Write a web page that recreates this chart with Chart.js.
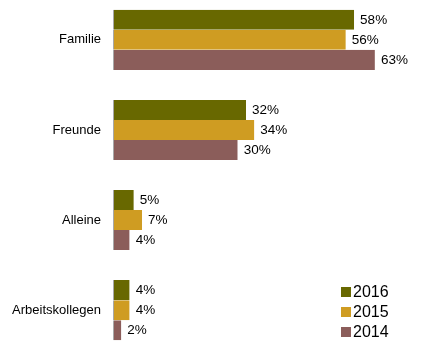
<!DOCTYPE html>
<html><head><meta charset="utf-8">
<script src="https://cdn.jsdelivr.net/npm/chart.js@4"></script>
<style>
html,body{margin:0;padding:0;background:#fff;overflow:hidden;}
#c{position:absolute;left:0;top:-25px;}
</style></head>
<body><canvas id="c" width="428" height="400"></canvas>
<script>
const categories = ["Familie", "Freunde", "Alleine", "Arbeitskollegen"];
const seriesLabels = ["2016", "2015", "2014"];
const values2016 = [58, 32, 5, 4];
const values2015 = [56, 34, 7, 4];
const values2014 = [63, 30, 4, 2];
const colors = ["#686800", "#CF9C22", "#8B5D5A"];

const valueLabels = {
  id: 'valueLabels',
  afterDatasetsDraw(chart) {
    const ctx = chart.ctx;
    ctx.save();
    ctx.font = '13.5px "Liberation Sans", Arial, sans-serif';
    ctx.fillStyle = '#000';
    ctx.textAlign = 'left';
    ctx.textBaseline = 'middle';
    chart.data.datasets.forEach((ds, i) => {
      chart.getDatasetMeta(i).data.forEach((bar, j) => {
        ctx.fillText(ds.data[j] + '%', bar.x + 6, bar.y + 0.5);
      });
    });
    ctx.restore();
  }
};

const cornerLegend = {
  id: 'cornerLegend',
  afterDraw(chart) {
    const ctx = chart.ctx;
    ctx.save();
    ctx.font = '16px "Liberation Sans", Arial, sans-serif';
    ctx.textBaseline = 'middle';
    ctx.textAlign = 'left';
    chart.data.datasets.forEach((ds, i) => {
      const y = 317 + i * 20;
      ctx.fillStyle = ds.backgroundColor;
      ctx.fillRect(341, y - 5, 10, 10);
      ctx.fillStyle = '#000';
      ctx.fillText(ds.label, 353, y + 1);
    });
    ctx.restore();
  }
};

const datasets = [values2016, values2015, values2014].map((v, i) => ({
  label: seriesLabels[i],
  data: v,
  backgroundColor: colors[i],
  borderColor: '#a8a8a8',
  borderWidth: {left: 1, top: 0, right: 0, bottom: 0},
  borderSkipped: false,
  categoryPercentage: 60 / 90,
  barPercentage: 1.0
}));

new Chart(document.getElementById('c'), {
  type: 'bar',
  data: { labels: categories, datasets },
  options: {
    indexAxis: 'y',
    responsive: false,
    animation: false,
    layout: { padding: { top: 0, bottom: 0, left: 0, right: 24 } },
    plugins: { legend: { display: false }, tooltip: { enabled: false } },
    scales: {
      x: { min: 0, max: 70, display: false },
      y: {
        grid: { display: false, drawTicks: false },
        border: { display: false },
        ticks: {
          color: '#000',
          padding: 12,
          font: { family: '"Liberation Sans", Arial, sans-serif', size: 13 }
        },
        afterFit(scale) { scale.width = 113; }
      }
    }
  },
  plugins: [valueLabels, cornerLegend]
});
</script>
</body></html>
